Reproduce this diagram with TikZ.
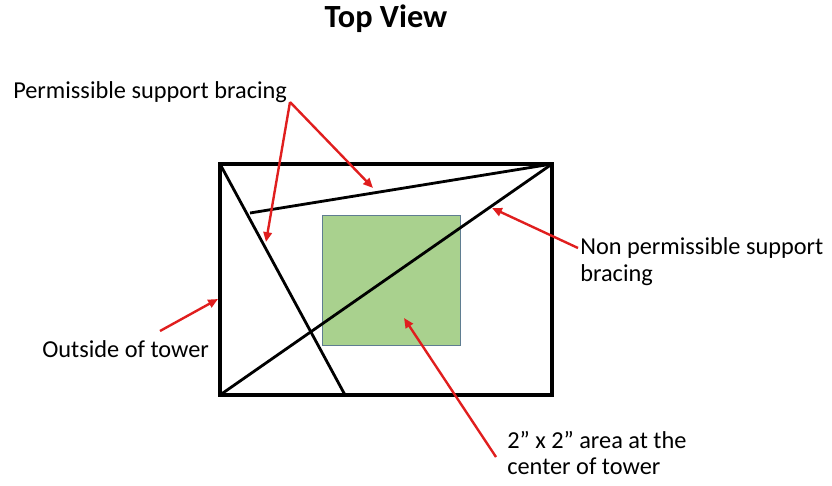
\documentclass[tikz,border=0pt]{standalone}
\usepackage{fontspec}
\setmainfont{Carlito}
\usetikzlibrary{arrows.meta,positioning}
\definecolor{arrowred}{RGB}{224,30,30}
\definecolor{areagreen}{RGB}{169,209,142}
\definecolor{areaedge}{RGB}{95,125,145}

\begin{document}
\begin{tikzpicture}[
    x=0.025cm,y=-0.025cm,
    frame/.style={line width=2.9pt},
    brace/.style={line width=2pt},
    area/.style={fill=areagreen,draw=areaedge,line width=0.6pt},
    pointer/.style={-{Triangle[length=7pt,width=6pt]},line width=1.7pt,draw=arrowred,fill=arrowred},
    note/.style={font=\fontsize{17.3}{19.2}\selectfont,inner sep=0pt,align=left}
]
    \useasboundingbox (0,0) rectangle (832,485);

    % Tower outline and bracing
    \coordinate (nw) at (220,164);
    \coordinate (ne) at (552,164);
    \coordinate (se) at (552,395);
    \coordinate (sw) at (220,395);
    \coordinate (brace1end) at (345,395);
    \coordinate (brace2end) at (250,213);

    \node[area,minimum width=138*0.025cm,minimum height=130*0.025cm,anchor=north west] (center) at (322,215) {};

    \draw[frame] (nw) rectangle (se);
    \draw[brace] (nw) -- (brace1end);
    \draw[brace] (brace2end) -- (ne);
    \draw[brace] (sw) -- (ne);

    % Labels
    \node[font=\fontsize{23}{27}\selectfont\bfseries,anchor=base] (title) at (386,28) {Top View};
    \node[note,anchor=base west] (permit) at (13,99) {Permissible support bracing};
    \node[note,anchor=base west] (nonpermit) at (580,281) {Non permissible support\\bracing};
    \node[note,anchor=base west] (outside) at (42,357) {Outside of tower};
    \node[note,anchor=base west,font=\fontsize{17.3}{18}\selectfont] (areanote) at (507,474) {2” x 2” area at the\\center of tower};

    % Arrows
    \coordinate (permittail) at (290,102);
    \coordinate (permithead1) at (373,188);
    \coordinate (permithead2) at (266,242);
    \coordinate (nontail) at (578,248);
    \coordinate (nonhead) at (492,208);
    \coordinate (outtail) at (160,331);
    \coordinate (outhead) at (218,299);
    \coordinate (areatail) at (496,457);
    \coordinate (areahead) at (404,318);

    \draw[pointer] (permittail) -- (permithead1);
    \draw[pointer] (permittail) -- (permithead2);
    \draw[pointer] (nontail) -- (nonhead);
    \draw[pointer] (outtail) -- (outhead);
    \draw[pointer] (areatail) -- (areahead);
\end{tikzpicture}
\end{document}
